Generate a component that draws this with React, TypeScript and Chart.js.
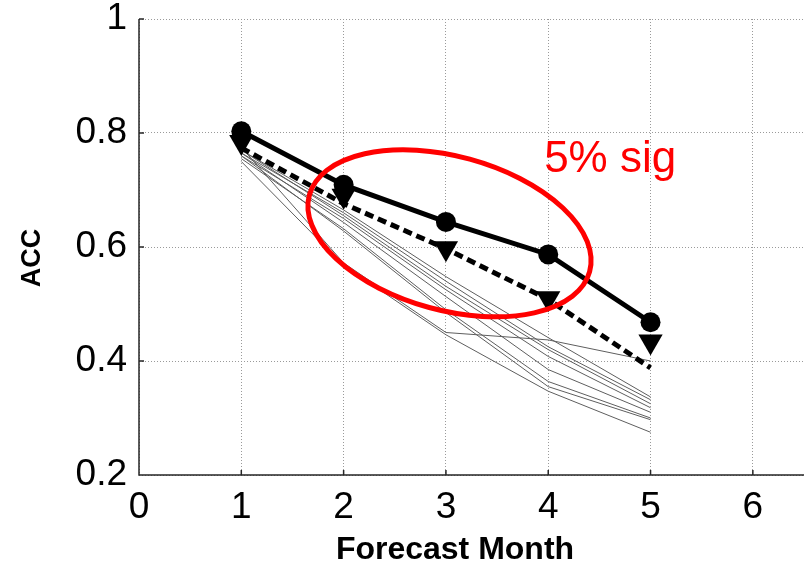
import React, { useEffect, useRef } from "react";
import { Chart, registerables } from "chart.js";

Chart.register(...registerables);

// ---- data ----
const months = [1, 2, 3, 4, 5];
const accCircle = [0.803, 0.709, 0.644, 0.587, 0.468];
const accTriangle = [0.784, 0.69, 0.598, 0.51, 0.434];
const accDashed = [0.774, 0.676, 0.597, 0.508, 0.388];
const member1 = [0.775, 0.572, 0.45, 0.437, 0.4];
const member2 = [0.77, 0.665, 0.548, 0.441, 0.337];
const member3 = [0.765, 0.66, 0.54, 0.425, 0.332];
const member4 = [0.77, 0.655, 0.531, 0.42, 0.325];
const member5 = [0.76, 0.65, 0.525, 0.408, 0.318];
const member6 = [0.765, 0.643, 0.513, 0.385, 0.31];
const member7 = [0.755, 0.632, 0.49, 0.364, 0.3];
const member8 = [0.76, 0.628, 0.485, 0.355, 0.297];
const member9 = [0.75, 0.568, 0.446, 0.347, 0.275];
const members = [member1, member2, member3, member4, member5, member6, member7, member8, member9];

const xTickValues = [0, 1, 2, 3, 4, 5, 6];
const xTickLabels = ["0", "1", "2", "3", "4", "5", "6"];
const yTickValues = [0.2, 0.4, 0.6, 0.8, 1];
const yTickLabels = ["0.2", "0.4", "0.6", "0.8", "1"];

const xTitle = "Forecast Month";
const yTitle = "ACC";
const noteText = "5% sig";

const toPts = (arr: number[]) => arr.map((v, i) => ({ x: months[i], y: v }));

const overlayPlugin = {
  id: "overlay",
  afterDatasetsDraw(chart: any) {
    const { ctx, chartArea, scales } = chart;
    const x = scales.x;
    const y = scales.y;
    ctx.save();
    // axis lines + inward ticks
    ctx.strokeStyle = "#262626";
    ctx.lineWidth = 1.5;
    ctx.beginPath();
    ctx.moveTo(chartArea.left, chartArea.top);
    ctx.lineTo(chartArea.left, chartArea.bottom);
    ctx.lineTo(chartArea.right, chartArea.bottom);
    for (const v of xTickValues) {
      const px = x.getPixelForValue(v);
      ctx.moveTo(px, chartArea.bottom);
      ctx.lineTo(px, chartArea.bottom - 5);
    }
    for (const v of yTickValues) {
      const py = y.getPixelForValue(v);
      ctx.moveTo(chartArea.left, py);
      ctx.lineTo(chartArea.left + 5, py);
    }
    ctx.stroke();

    // red ellipse annotation
    const pxPerX = x.getPixelForValue(1) - x.getPixelForValue(0);
    const cx = x.getPixelForValue(3.035);
    const cy = y.getPixelForValue(0.624);
    ctx.strokeStyle = "#ff0000";
    ctx.lineWidth = 5;
    ctx.beginPath();
    ctx.ellipse(cx, cy, 1.42 * pxPerX, 0.752 * pxPerX, (15.3 * Math.PI) / 180, 0, Math.PI * 2);
    ctx.stroke();

    // red note
    ctx.fillStyle = "#ff0000";
    ctx.font = '44px "Liberation Sans", Arial, sans-serif';
    ctx.textAlign = "left";
    ctx.textBaseline = "alphabetic";
    ctx.fillText(noteText, x.getPixelForValue(3.96), y.getPixelForValue(0.732));

    // axis titles
    ctx.fillStyle = "#000";
    ctx.font = 'bold 32px "Liberation Sans", Arial, sans-serif';
    ctx.textAlign = "center";
    ctx.textBaseline = "middle";
    ctx.fillText(xTitle, 455, 550);
    ctx.translate(33, 258);
    ctx.rotate(-Math.PI / 2);
    ctx.font = 'bold 27px "Liberation Sans", Arial, sans-serif';
    ctx.fillText(yTitle, 0, 0);
    ctx.restore();
  },
};

const zeroPad = (s: any) => {
  s.paddingLeft = 0;
  s.paddingRight = 0;
  s.paddingTop = 0;
  s.paddingBottom = 0;
};

export default function App() {
  const ref = useRef<HTMLCanvasElement | null>(null);
  useEffect(() => {
    if (!ref.current) return;
    const gray = "#5e5e5e";
    const memberSets = members.map((m, i) => ({
      label: "member " + (i + 1),
      data: toPts(m),
      borderColor: gray,
      borderWidth: 1,
      pointRadius: 0,
      tension: 0,
      fill: false,
    }));
    const chart = new Chart(ref.current, {
      type: "line",
      data: {
        datasets: [
          {
            label: "circle",
            data: toPts(accCircle),
            borderColor: "#000",
            backgroundColor: "#000",
            borderWidth: 5,
            pointRadius: 10,
            pointStyle: "circle",
            pointBorderWidth: 0,
            tension: 0,
          },
          {
            label: "triangle",
            data: toPts(accTriangle),
            showLine: false,
            borderColor: "#000",
            backgroundColor: "#000",
            pointRadius: 14,
            pointStyle: "triangle",
            pointRotation: 180,
            pointBorderWidth: 0,
          },
          {
            label: "dashed",
            data: toPts(accDashed),
            borderColor: "#000",
            borderWidth: 5,
            borderDash: [9, 5],
            pointRadius: 0,
            tension: 0,
          },
          ...memberSets,
        ] as any,
      },
      options: {
        animation: false,
        responsive: false,
        events: [],
        layout: { autoPadding: false, padding: { left: 0, right: 5, top: 19, bottom: 0 } },
        plugins: { legend: { display: false }, tooltip: { enabled: false } },
        scales: {
          x: {
            type: "linear",
            min: 0,
            max: 6.5,
            afterFit: (s: any) => {
              s.height = 92;
              zeroPad(s);
            },
            afterBuildTicks: (s: any) => {
              s.ticks = xTickValues.map((value) => ({ value }));
            },
            ticks: {
              callback: (_v: any, i: number) => xTickLabels[i],
              font: { family: '"Liberation Sans", Arial, sans-serif', size: 37, lineHeight: 1 },
              color: "#000",
              padding: 14,
              maxRotation: 0,
              autoSkip: false,
            },
            grid: { color: "#9a9a9a", lineWidth: 1, drawTicks: false },
            border: { display: false, dash: [1, 2] },
          },
          y: {
            type: "linear",
            min: 0.2,
            max: 1,
            afterFit: (s: any) => {
              s.width = 139;
              zeroPad(s);
            },
            afterBuildTicks: (s: any) => {
              s.ticks = yTickValues.map((value) => ({ value }));
            },
            ticks: {
              callback: (_v: any, i: number) => yTickLabels[i],
              font: { family: '"Liberation Sans", Arial, sans-serif', size: 37, lineHeight: 1 },
              color: "#000",
              padding: 12,
              autoSkip: false,
            },
            grid: { color: "#9a9a9a", lineWidth: 1, drawTicks: false },
            border: { display: false, dash: [1, 2] },
          },
        },
      },
      plugins: [overlayPlugin],
    });
    return () => chart.destroy();
  }, []);
  return (
    <div style={{ position: "absolute", left: 0, top: 0, width: 809, height: 567, background: "#fff" }}>
      <canvas ref={ref} width={809} height={567} style={{ display: "block" }} />
    </div>
  );
}
